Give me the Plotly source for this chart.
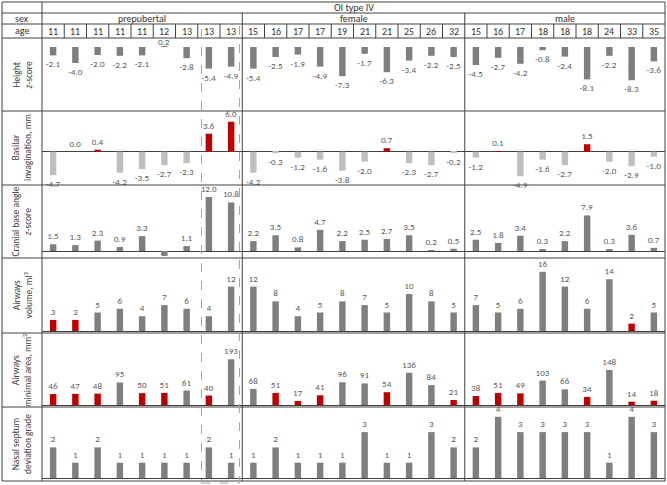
import plotly.graph_objects as go

W, H = 667, 485

# ---------------- data ----------------
group_names = ["prepubertal", "female", "male"]
group_sizes = [9, 10, 9]
ages = [11, 11, 11, 11, 11, 12, 13, 13, 13,
        15, 16, 17, 17, 19, 21, 21, 25, 26, 32,
        15, 16, 17, 18, 18, 18, 24, 33, 35]

height_z = [-2.1, -4.0, -2.0, -2.2, -2.1, 0.2, -2.8, -5.4, -4.9,
            -5.4, -2.5, -1.9, -4.9, -7.3, -1.7, -6.3, -3.4, -2.2, -2.5,
            -4.5, -2.7, -4.2, -0.8, -2.4, -8.1, -2.2, -8.3, -3.6]

basilar_mm = [-4.7, 0.0, 0.4, -4.2, -3.5, -2.7, -2.3, 3.6, 6.0,
              -4.2, -0.3, -1.2, -1.6, -3.8, -2.0, 0.7, -2.3, -2.7, -0.2,
              -1.2, 0.1, -4.9, -1.6, -2.7, 1.5, -2.0, -2.9, -1.0]

cranial_z = [1.5, 1.3, 2.3, 0.9, 3.3, -1.1, 1.1, 12.0, 10.8,
             2.2, 3.5, 0.8, 4.7, 2.2, 2.5, 2.7, 3.5, 0.2, 0.5,
             2.5, 1.8, 3.4, 0.3, 2.2, 7.9, 0.3, 3.6, 0.7]
cranial_unlabelled = [5]

volume_ml = [3, 3, 5, 6, 4, 7, 6, 4, 12,
             12, 8, 4, 5, 8, 7, 5, 10, 8, 5,
             7, 5, 6, 16, 12, 6, 14, 2, 5]
volume_low = [1, 1, 0, 0, 0, 0, 0, 0, 0,
              0, 0, 0, 0, 0, 0, 0, 0, 0, 0,
              0, 0, 0, 0, 0, 0, 0, 1, 0]

area_mm2 = [46, 47, 48, 95, 50, 51, 61, 40, 193,
            68, 51, 17, 41, 96, 91, 54, 136, 84, 21,
            38, 51, 49, 103, 66, 34, 148, 14, 18]
area_low = [1, 1, 1, 0, 1, 1, 0, 1, 0,
            0, 1, 1, 1, 0, 0, 1, 0, 0, 1,
            1, 1, 1, 0, 0, 1, 0, 1, 1]

septum_grade = [2, 1, 2, 1, 1, 1, 1, 2, 1,
                1, 2, 1, 1, 1, 3, 1, 1, 3, 2,
                2, 4, 3, 3, 3, 3, 1, 4, 3]

row_labels = ["Height<br><i>z</i>-score",
              "Basilar<br>invagination, mm",
              "Cranial base angle<br><i>z</i>-score",
              "Airways<br>volume, ml<sup>3</sup>",
              "Airways<br>minimal area, mm<sup>2</sup>",
              "Nasal septum<br>deviation grade"]

# ---------------- styling ----------------
GRAY = "#7f7f7f"
LIGHT = "#bfbfbf"
RED = "#c00000"
LINE = "#404040"
TXT = "#595959"
FONT = "Carlito, 'Liberation Sans Narrow', 'Liberation Sans', sans-serif"

X0, X1 = 42, 665           # plot columns, px
N = len(ages)
colw = (X1 - X0) / N

def px(x):
    return x / W

def py(y):
    return 1 - y / H

# rows: (top px, bottom px, zero px, px per unit)
rows = [
    (38, 111, 47, 4.0),
    (111, 185, 151.7, 5.0),
    (185, 258, 251, 4.5),
    (258, 333, 331, 3.7),
    (333, 407, 405, 0.237),
    (407, 481, 478, 15.3),
]

def fmt1(v):
    return f"{v:.1f}"

# height: positive value label is placed tight under the age row (as annotation)
height_txt = ["" if v > 0 else fmt1(v) for v in height_z]

series = [
    (height_z, [GRAY] * N, height_txt, False),
    (basilar_mm, [RED if v >= 0 else LIGHT for v in basilar_mm],
     [fmt1(v) for v in basilar_mm], True),
    (cranial_z, [GRAY] * N,
     ["" if i in cranial_unlabelled else fmt1(v) for i, v in enumerate(cranial_z)], True),
    (volume_ml, [RED if f else GRAY for f in volume_low], [str(v) for v in volume_ml], True),
    (area_mm2, [RED if f else GRAY for f in area_low], [str(v) for v in area_mm2], True),
    (septum_grade, [GRAY] * N, [str(v) for v in septum_grade], True),
]

fig = go.Figure()
layout = dict(
    width=W, height=H, margin=dict(l=0, r=0, t=0, b=0),
    paper_bgcolor="white", plot_bgcolor="rgba(0,0,0,0)",
    showlegend=False, font=dict(family=FONT, color=TXT),
    xaxis=dict(domain=[px(X0), px(X1)], range=[-0.5, N - 0.5], visible=False, fixedrange=True),
)

for k, ((top, bot, zero, scale), (vals, cols, txt, zl)) in enumerate(zip(rows, series)):
    name = "y" if k == 0 else f"y{k+1}"
    key = "yaxis" if k == 0 else f"yaxis{k+1}"
    hi = (zero - top) / scale
    lo = -(bot - zero) / scale
    layout[key] = dict(domain=[py(bot), py(top)], range=[lo, hi], anchor="x",
                       showgrid=False, showticklabels=False, ticks="",
                       zeroline=zl, zerolinecolor=LINE, zerolinewidth=1,
                       showline=False, fixedrange=True)
    fig.add_trace(go.Bar(
        x=list(range(N)), y=vals, xaxis="x", yaxis=name,
        marker=dict(color=cols, line=dict(width=0)), width=0.29,
        text=txt, textposition="outside", constraintext="none", cliponaxis=False,
        textangle=0, textfont=dict(size=9, color=TXT, family=FONT),
        hoverinfo="skip",
    ))

fig.update_layout(**layout)

shapes = []
def hline(y, xa=2, xb=665, color=LINE, dash=None):
    shapes.append(dict(type="line", xref="paper", yref="paper",
                       x0=px(xa), x1=px(xb), y0=py(y), y1=py(y),
                       line=dict(color=color, width=1, dash=dash)))
def vline(x, ya, yb, color=LINE, dash=None):
    shapes.append(dict(type="line", xref="paper", yref="paper",
                       x0=px(x), x1=px(x), y0=py(ya), y1=py(yb),
                       line=dict(color=color, width=1, dash=dash)))

for y in [2, 13, 24, 38, 111, 185, 258, 333, 407, 481]:
    hline(y)
vline(2, 2, 481)
vline(665, 2, 481)
vline(X0, 2, 481)
bounds = [0]
for s in group_sizes:
    bounds.append(bounds[-1] + s)
for b in bounds[1:-1]:
    vline(X0 + b * colw, 13, 481)
for i in range(1, N):
    if i not in bounds:
        vline(X0 + i * colw, 24, 38)

# dashed highlight around last two prepubertal columns
shapes.append(dict(type="rect", xref="paper", yref="paper",
                   x0=px(201.5), x1=px(239.5), y0=py(483), y1=py(24),
                   line=dict(color="#a6a6a6", width=1, dash="dash")))

annotations = []
def label(x, y, text, size=10, color="#333333", angle=0):
    annotations.append(dict(x=px(x), y=py(y), xref="paper", yref="paper",
                            text=text, showarrow=False, xanchor="center", yanchor="middle",
                            textangle=angle, font=dict(size=size, color=color, family=FONT)))

label((X0 + X1) / 2, 7.5, "OI type IV")
for g, name in enumerate(group_names):
    label(X0 + (bounds[g] + bounds[g + 1]) / 2 * colw, 18.5, name)
label(22, 18.5, "sex")
label(22, 31, "age")
for i, a in enumerate(ages):
    label(X0 + (i + 0.5) * colw, 31.5, str(a))
for (top, bot, zero, scale), t in zip(rows, row_labels):
    label(22, (top + bot) / 2, t, size=9.5, color=LINE, angle=-90)

# positive height label sits just above its bar
for i, v in enumerate(height_z):
    if v > 0:
        annotations.append(dict(x=i, y=v, xref="x", yref="y", text=fmt1(v),
                                showarrow=False, xanchor="center", yanchor="bottom",
                                yshift=-3, font=dict(size=9, color=TXT, family=FONT)))

fig.update_layout(shapes=shapes, annotations=annotations)
fig.write_html("out.html", config={"displayModeBar": False},
               post_script="document.body.style.margin='0';document.body.style.overflow='hidden';")
